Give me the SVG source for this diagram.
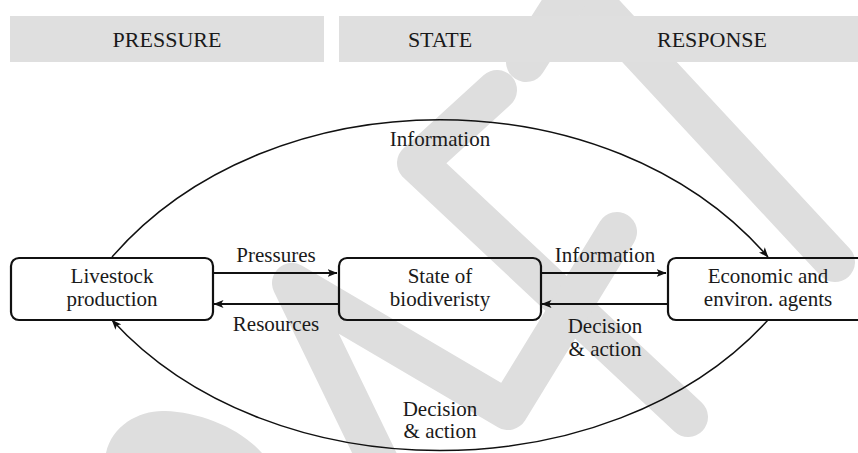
<svg xmlns="http://www.w3.org/2000/svg" width="858" height="453" viewBox="0 0 858 453">
<defs>
<style>
.wm{fill:none;stroke:#dedede;stroke-width:40;stroke-linecap:round;stroke-linejoin:round}
.wmf{fill:#dedede}
.hdr{fill:#dfdfdf}
.box{fill:none;stroke:#111;stroke-width:2.2}
.ar{fill:none;stroke:#111;stroke-width:2.2}
.cv{fill:none;stroke:#111;stroke-width:1.5}
</style>
<marker id="ah" viewBox="0 0 10 8" refX="9.5" refY="4" markerWidth="10" markerHeight="8" orient="auto" markerUnits="userSpaceOnUse">
<path d="M0,0 L10,4 L0,8 L2.5,4 z" fill="#111"/>
</marker>
</defs>
<rect width="858" height="453" fill="#ffffff"/>
<g id="watermark">
<path class="wm" d="M578,-15 L835,262"/>
<path class="wm" d="M575,-15 L526,62"/>
<path class="wm" d="M497,90 L417,163 L688,417"/>
<path class="wm" d="M385,475 L292,283 L508,410 L617,232"/>
<path class="wmf" d="M106,453 C112,425 140,410 165,411 C200,412 240,428 262,453 Z"/>
</g>
<g font-family="'Liberation Serif', 'Times New Roman', Times, serif" font-size="21" fill="#1a1a1a" text-anchor="middle">
<g id="header">
<rect class="hdr" x="10" y="16" width="314" height="46"/>
<rect class="hdr" x="339" y="16" width="519" height="46"/>
<text x="167" y="47" font-size="22">PRESSURE</text>
<text x="440" y="47" font-size="22">STATE</text>
<text x="712" y="47" font-size="22">RESPONSE</text>
</g>
<g id="livestock">
<rect class="box" x="11" y="258" width="202" height="62" rx="8"/>
<text x="112" y="283">Livestock</text>
<text x="112" y="306">production</text>
</g>
<g id="state">
<rect class="box" x="339" y="258" width="202" height="62" rx="8"/>
<text x="440" y="283">State of</text>
<text x="440" y="306">biodiveristy</text>
</g>
<g id="agents">
<rect class="box" x="668" y="258" width="202" height="62" rx="8"/>
<text x="768" y="283">Economic and</text>
<text x="768" y="306">environ. agents</text>
</g>
<g id="connectors">
<path class="ar" d="M214,273 H337" marker-end="url(#ah)"/>
<path class="ar" d="M338,304 H214" marker-end="url(#ah)"/>
<path class="ar" d="M542,273 H666" marker-end="url(#ah)"/>
<path class="ar" d="M667,304 H542" marker-end="url(#ah)"/>
<path class="cv" d="M112,257 C271,74 609,74 768,257" marker-end="url(#ah)"/>
<path class="cv" d="M768,320 C609,494 271,494 112,320" marker-end="url(#ah)"/>
<text x="276" y="262">Pressures</text>
<text x="276" y="331">Resources</text>
<text x="605" y="262">Information</text>
<text x="605" y="333">Decision</text>
<text x="605" y="356">&amp; action</text>
<text x="440" y="146">Information</text>
<text x="440" y="416">Decision</text>
<text x="440" y="438">&amp; action</text>
</g>
</g>
</svg>
